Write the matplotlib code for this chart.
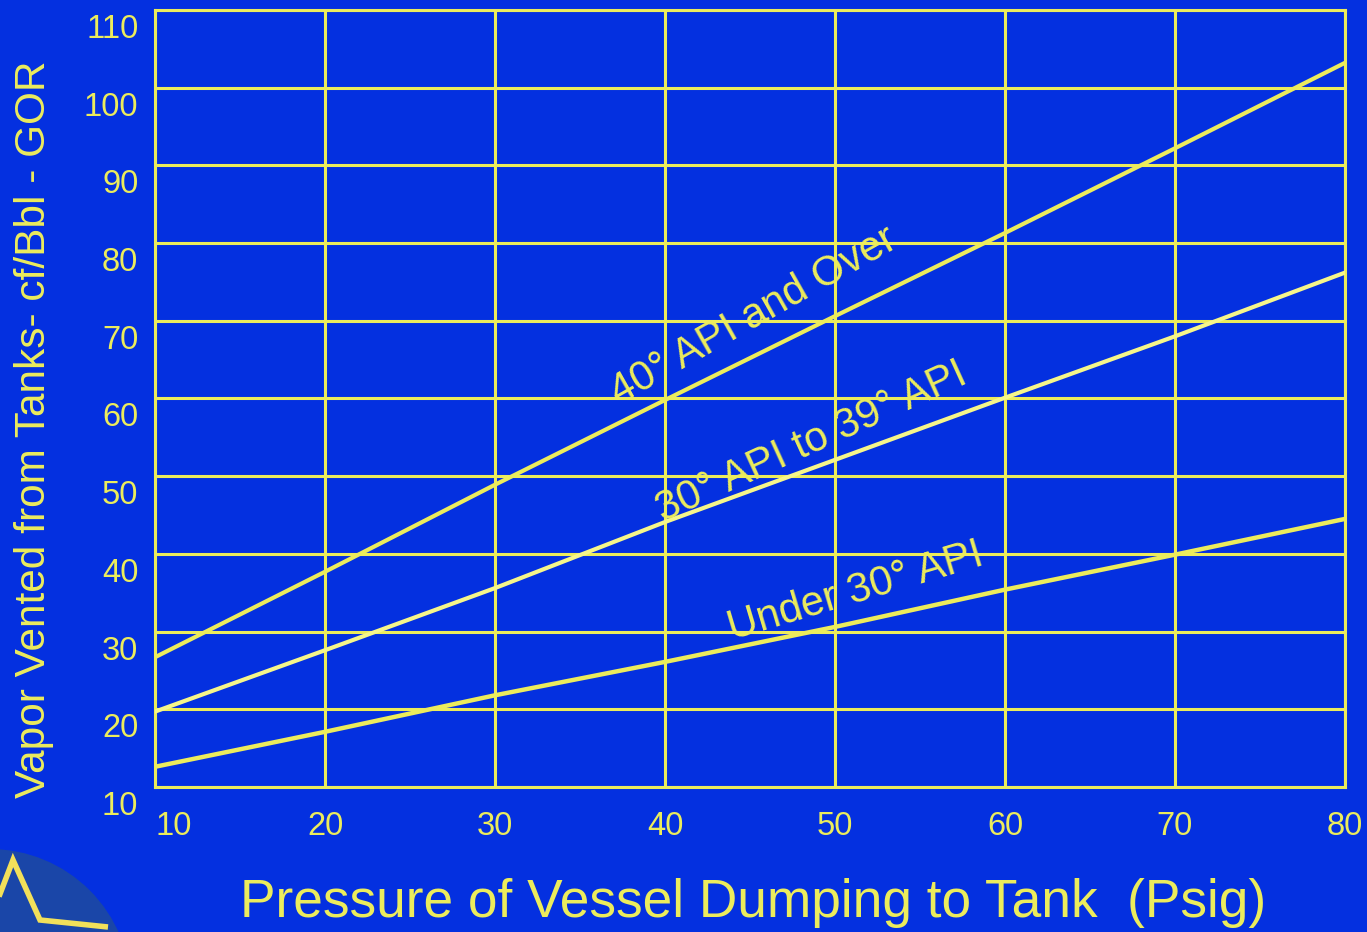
import numpy as np
from matplotlib import pyplot as plt
from matplotlib import transforms
from matplotlib.patches import Circle, Polygon

# Presion del separador (psig)
pressure = [10, 20, 30, 40, 50, 60, 70, 80]

# Vapor venteado (cf/Bbl) por grado API
gor_40_over = [26.7, 37.7, 48.9, 59.8, 70.6, 81.3, 92.2, 103.2]
gor_30_39 = [19.7, 27.6, 35.6, 44.1, 52.1, 60.1, 68.0, 76.2]
gor_under_30 = [12.6, 17.1, 21.8, 26.1, 30.6, 35.4, 39.9, 44.5]

curve_labels = ['40° API and Over', '30° API to 39° API', 'Under 30° API']

x_ticks = [10, 20, 30, 40, 50, 60, 70, 80]
y_ticks = [10, 20, 30, 40, 50, 60, 70, 80, 90, 100, 110]

BG = '#0430E0'
YEL = '#ECEC5C'

plt.rcParams['font.family'] = ['Liberation Sans', 'DejaVu Sans']

fig = plt.figure(figsize=(13.67, 9.32), dpi=100)
fig.patch.set_facecolor(BG)
ax = fig.add_axes([0.1134, 0.1556, 0.8705, 0.8337])
ax.set_facecolor(BG)

ax.plot(pressure, gor_40_over, color=YEL, lw=3.0, zorder=3)
ax.plot(pressure, gor_30_39, color='#F6F68A', lw=3.0, zorder=3)
ax.plot(pressure, gor_under_30, color=YEL, lw=3.2, zorder=3)

ax.set_xlim(10, 80)
ax.set_ylim(10, 110)
ax.set_xticks(x_ticks)
ax.set_yticks(y_ticks)
ax.grid(True, color=YEL, lw=2.2)
ax.set_axisbelow(True)
for sp in ax.spines.values():
    sp.set_color(YEL)
    sp.set_linewidth(2.2)

ax.tick_params(length=0, colors=YEL, labelsize=23.5)
ax.tick_params(axis='x', pad=17)
ax.tick_params(axis='y', pad=12)
for lbl in ax.get_yticklabels():
    lbl.set_va('top')
    lbl.set_transform(lbl.get_transform() + transforms.ScaledTranslation(0, -0.04, fig.dpi_scale_trans))
ax.get_xticklabels()[0].set_ha('left')

# etiquetas de las curvas
ax.text(45.2, 70.6, curve_labels[0], color=YEL, fontsize=30, rotation=29.5,
        ha='center', va='center', rotation_mode='anchor')
ax.text(48.6, 54.4, curve_labels[1], color=YEL, fontsize=30, rotation=24.5,
        ha='center', va='center', rotation_mode='anchor')
ax.text(51.2, 35.1, curve_labels[2], color=YEL, fontsize=30, rotation=16.6,
        ha='center', va='center', rotation_mode='anchor')

fig.text(0.551, 0.031, 'Pressure of Vessel Dumping to Tank  (Psig)', color=YEL,
         fontsize=38.3, ha='center', va='center')
fig.text(0.025, 0.539, 'Vapor Vented from Tanks- cf/Bbl - GOR', color=YEL,
         fontsize=30.5, ha='center', va='center', rotation=90)

# logo en la esquina inferior izquierda
logo = Circle((-10, -58), 141, transform=None, facecolor='#1A46A8',
              edgecolor='none', zorder=5)
fig.patches.append(logo)
star = Polygon([(-5, 25), (13, 72), (40, 12), (108, 5)], closed=False,
               transform=None, fill=False, edgecolor='#F2E05A', lw=4, zorder=6)
fig.patches.append(star)

fig.savefig('out.png', dpi=100, facecolor=BG)
